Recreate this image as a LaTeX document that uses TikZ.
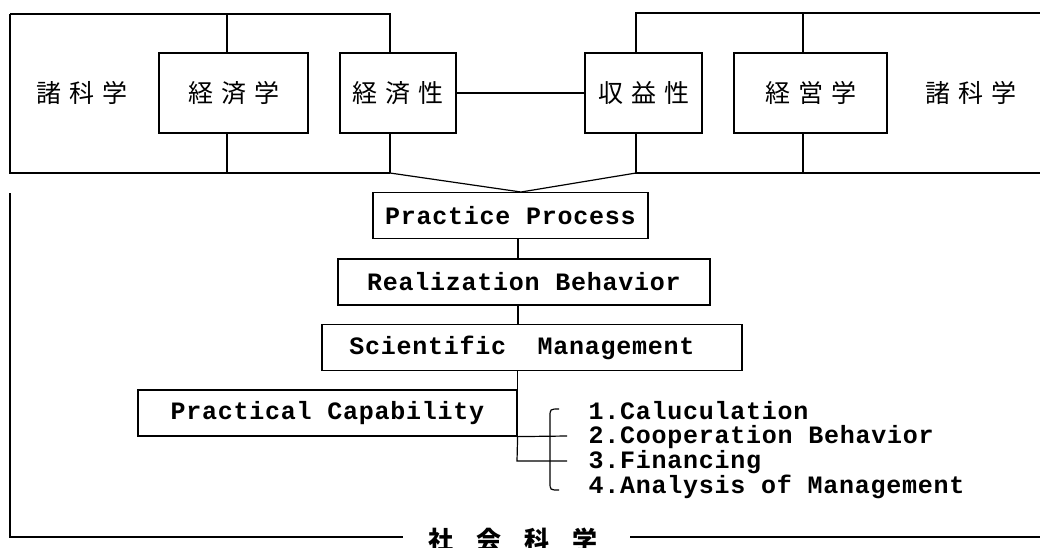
\documentclass[tikz,border=0pt]{standalone}
\usepackage{fontspec}
\newfontfamily\cjk{Noto Sans CJK JP}
\newfontfamily\mono{Liberation Mono}[LetterSpace=3]
\newcommand\jsp{\hspace{8pt}}
\newcommand\jbsp{\hspace{23pt}}
\tikzset{
  every picture/.style={line width=1.2pt},
  jbox/.style={draw, line width=1.2pt, inner sep=0pt, font=\cjk\fontsize{25}{28}\selectfont},
  ebox/.style={draw, line width=1.2pt, inner sep=0pt, minimum height=46pt, font=\mono\bfseries\fontsize{25}{28}\selectfont},
  jtext/.style={inner sep=0pt, font=\cjk\fontsize{25}{28}\selectfont},
  etext/.style={inner sep=0pt, anchor=west, text height=14pt, text depth=4pt, font=\mono\bfseries\fontsize{25}{28}\selectfont},
  ln/.style={line width=1.2pt}
}
\begin{document}
\begin{tikzpicture}[x=1pt,y=-1pt]
\useasboundingbox (0,0) rectangle (1040,547);
% coordinates of frames
\coordinate (LTL) at (10,14);
\coordinate (LBL) at (10,173);
\coordinate (RTL) at (636,13);
\coordinate (RTR) at (1040,13);
\coordinate (RBR) at (1040,173);
\coordinate (meet) at (521,192);
\coordinate (BTL) at (10,193);
\coordinate (BBL) at (10,537);
\coordinate (BL1) at (403,537);
\coordinate (BR1) at (630,537);
\coordinate (BR2) at (1040,537);
% top-left group
\node[jtext] (shoL) at (82,93) {諸\jsp 科\jsp 学};
\node[jbox, minimum width=149pt, minimum height=80pt] (keizaigaku) at (233.5,93) {経\jsp 済\jsp 学};
\node[jbox, minimum width=116pt, minimum height=80pt] (keizaisei) at (398,93) {経\jsp 済\jsp 性};
% top-right group
\node[jbox, minimum width=117pt, minimum height=80pt] (shuekisei) at (643.5,93) {収\jsp 益\jsp 性};
\node[jbox, minimum width=153pt, minimum height=80pt] (keieigaku) at (810.5,93) {経\jsp 営\jsp 学};
\node[jtext] (shoR) at (971,93) {諸\jsp 科\jsp 学};
% left frame
\draw[ln] (LTL) -- (LBL) -- (390,173);
\draw[ln] (LTL) -- (390,14) -- (390,53);
\draw[ln] (keizaigaku.north -| 227,0) -- (227,14);
\draw[ln] (keizaigaku.south -| 227,0) -- (227,173);
\draw[ln] (390,133) -- (390,173);
% right frame
\draw[ln] (RBR) -- (636,173) -- (636,133);
\draw[ln] (RTR) -- (RTL) -- (636,53);
\draw[ln] (keieigaku.north -| 803,0) -- (803,13);
\draw[ln] (keieigaku.south -| 803,0) -- (803,173);
% link between groups
\draw[ln] (keizaisei.east) -- (shuekisei.west);
% middle chain
\node[ebox, minimum width=275pt] (practice) at (510.5,215.5) {Practice Process};
\node[ebox, minimum width=372pt] (real) at (524,282) {Realization Behavior};
\node[ebox, minimum width=420pt] (sci) at (532,347.5) {\hspace*{-20pt}Scientific~~Management};
\node[ebox, minimum width=379pt] (pc) at (327.5,413) {Practical Capability};
\draw[ln] (390,173) -- (meet) -- (636,173);
\draw[ln] (practice.south -| 518,0) -- (real.north -| 518,0);
\draw[ln] (real.south -| 518,0) -- (sci.north -| 518,0);
\coordinate (tb) at (517,461);
\coordinate (e2) at (567,436);
\coordinate (e3) at (567,461);
\draw[ln] (sci.south -| pc.east) -- (pc.north east);
\draw[ln] (pc.south east) -- (tb) -- (e3);
\draw[ln] (pc.south east) -- (e2);
% brace
\coordinate (brT) at (559,409);
\coordinate (brB) at (559,490);
\draw[ln] (brT) .. controls (550,409) .. (550,417) -- (550,482) .. controls (550,490) .. (brB);
% list
\node[etext] (l1) at (588,414) {1.Caluculation};
\node[etext] (l2) at (588,438.5) {2.Cooperation Behavior};
\node[etext] (l3) at (588,463.5) {3.Financing};
\node[etext] (l4) at (588,488.5) {4.Analysis of Management};
% bottom frame
\draw[ln] (BTL) -- (BBL) -- (BL1);
\draw[ln] (BR1) -- (BR2);
\node[inner sep=0pt, font=\cjk\bfseries\fontsize{25}{28}\selectfont] (shakai) at (513,540) {社\jbsp 会\jbsp 科\jbsp 学};
\end{tikzpicture}
\end{document}
